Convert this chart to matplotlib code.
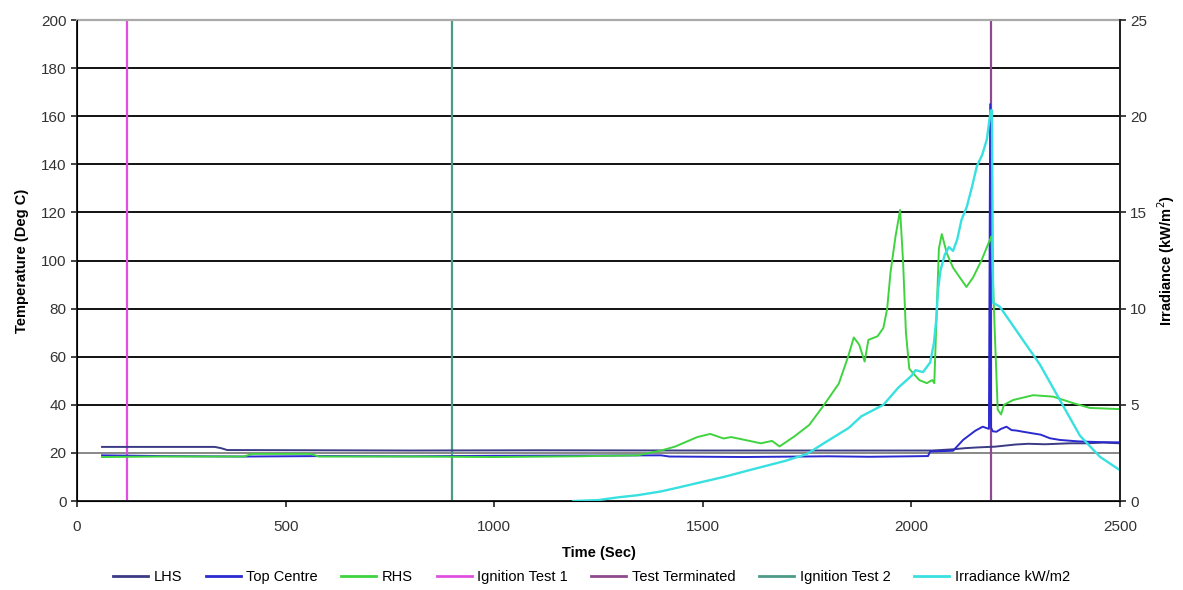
import matplotlib
matplotlib.use("Agg")
import matplotlib.pyplot as plt

plt.rcParams['font.family'] = ['Liberation Sans', 'DejaVu Sans']

# Thermocouple readings (time in s, temperature in deg C)
lhs_t = [60, 330, 345, 360, 800, 1100, 1500, 2050, 2100, 2130, 2160, 2200, 2250,
         2280, 2320, 2380, 2420, 2460, 2500]
lhs_temp = [22.5, 22.5, 22.0, 21.2, 21.0, 21.1, 21.0, 21.0, 21.5, 22.0, 22.3, 22.6,
            23.5, 23.8, 23.6, 24.0, 24.0, 24.3, 24.0]

top_t = [60, 200, 400, 600, 800, 1000, 1200, 1400, 1420, 1600, 1800, 1900, 2000,
         2040, 2045, 2100, 2124, 2153, 2171, 2186, 2189, 2191, 2195, 2204, 2215,
         2228, 2240, 2252, 2268, 2292, 2310, 2332, 2356, 2400, 2450, 2500]
top_temp = [19.0, 18.7, 18.5, 18.7, 18.6, 18.8, 18.9, 19.0, 18.5, 18.3, 18.6, 18.4,
            18.6, 18.7, 20.6, 20.9, 25.4, 29.2, 30.9, 30.0, 165.0, 30.5, 29.0, 28.8,
            30.0, 30.9, 29.5, 29.3, 28.8, 28.1, 27.6, 26.1, 25.4, 24.8, 24.5, 24.4]

rhs_t = [60, 200, 400, 420, 560, 580, 800, 1000, 1200, 1343, 1400, 1433, 1487, 1518,
         1550, 1568, 1612, 1639, 1666, 1684, 1719, 1755, 1790, 1826, 1848, 1862, 1875,
         1888, 1897, 1919, 1933, 1942, 1950, 1962, 1973, 1980, 1987, 1995, 2005, 2019,
         2037, 2050, 2055, 2060, 2066, 2073, 2085, 2100, 2116, 2132, 2148, 2168, 2188,
         2192, 2200, 2207, 2215, 2222, 2244, 2292, 2340, 2388, 2428, 2460, 2500]
rhs_temp = [18.3, 18.5, 18.5, 19.6, 19.6, 18.5, 18.5, 18.3, 18.6, 19.0, 21.0, 22.6,
            26.6, 27.9, 26.0, 26.6, 25.0, 24.0, 25.0, 22.7, 26.8, 31.6, 39.8, 48.8,
            59.8, 68.0, 65.0, 58.0, 67.0, 68.5, 72.0, 80.0, 95.0, 110.0, 121.0, 100.0,
            70.0, 55.0, 53.0, 50.3, 49.0, 50.3, 49.0, 75.0, 105.0, 111.0, 103.0, 97.0,
            93.0, 89.0, 93.0, 100.0, 108.5, 110.0, 70.0, 38.0, 36.0, 40.0, 42.0, 44.0,
            43.4, 40.7, 38.7, 38.5, 38.2]

# Radiometer (kW/m2)
irr_t = [1190, 1250, 1300, 1343, 1400, 1433, 1500, 1550, 1611, 1700, 1750, 1790,
         1850, 1880, 1933, 1969, 2000, 2010, 2028, 2045, 2054, 2060, 2064, 2070,
         2080, 2090, 2100, 2110, 2120, 2133, 2145, 2157, 2170, 2181, 2190, 2193,
         2196, 2212, 2260, 2308, 2356, 2404, 2452, 2500]
irradiance = [0.0, 0.05, 0.2, 0.3, 0.5, 0.66, 1.0, 1.25, 1.6, 2.1, 2.45, 3.0, 3.8,
              4.4, 5.0, 5.9, 6.5, 6.8, 6.7, 7.2, 8.2, 9.5, 11.0, 12.0, 12.8, 13.2,
              13.0, 13.6, 14.6, 15.3, 16.3, 17.4, 18.0, 18.8, 20.3, 20.3, 10.3, 10.1,
              8.6, 7.1, 5.25, 3.4, 2.3, 1.6]

# Event markers (s)
ignition_1 = 120
ignition_2 = 900
terminated = 2190

temp_ticks = list(range(0, 201, 20))
time_ticks = [0, 500, 1000, 1500, 2000, 2500]
irr_ticks = [0, 5, 10, 15, 20, 25]

fig = plt.figure(figsize=(11.83, 5.90), dpi=100)
ax = fig.add_axes([0.0651, 0.1508, 0.8816, 0.8153])

# Horizontal gridlines
for v in temp_ticks[1:-1]:
    ax.axhline(v, color='#888888' if v == 20 else '#111111', lw=1.4, zorder=1)

h_ig1 = ax.axvline(ignition_1, color='#e050e0', lw=1.6, zorder=2, label='Ignition Test 1')
h_term = ax.axvline(terminated, color='#8e4a8e', lw=1.6, zorder=2, label='Test Terminated')
h_ig2 = ax.axvline(ignition_2, color='#4d9a88', lw=1.6, zorder=2, label='Ignition Test 2')

h_lhs, = ax.plot(lhs_t, lhs_temp, color='#3a3a85', lw=1.4, zorder=3, label='LHS')
h_top, = ax.plot(top_t, top_temp, color='#2a2ad0', lw=1.4, zorder=3, label='Top Centre')
h_rhs, = ax.plot(rhs_t, rhs_temp, color='#3fd43f', lw=1.4, zorder=3, label='RHS')

ax.set_xlim(0, 2500)
ax.set_ylim(0, 200)
ax.set_xticks(time_ticks)
ax.set_yticks(temp_ticks)
ax.tick_params(axis='both', labelsize=11, direction='out', length=4, width=1.2,
               colors='#222222', labelcolor='#333333')
ax.tick_params(axis='x', pad=10)
ax.set_xlabel('Time (Sec)', fontsize=10.5, fontweight='bold', labelpad=8)
ax.set_ylabel('Temperature (Deg C)', fontsize=10.5, fontweight='bold', labelpad=9)

for side in ('left', 'bottom', 'right'):
    ax.spines[side].set_color('#222222')
    ax.spines[side].set_linewidth(1.4)
ax.spines['top'].set_color('#aaaaaa')
ax.spines['top'].set_linewidth(1.6)

ax2 = ax.twinx()
h_irr, = ax2.plot(irr_t, irradiance, color='#38e0e0', lw=1.7, label='Irradiance kW/m2')
ax2.set_ylim(0, 25)
ax2.set_yticks(irr_ticks)
ax2.tick_params(axis='y', labelsize=11, direction='out', length=4, width=1.2,
                colors='#222222', labelcolor='#333333')
ax2.set_ylabel('Irradiance (kW/m$^2$)', fontsize=10.5, fontweight='bold', labelpad=6)
ax2.spines['right'].set_color('#222222')
ax2.spines['right'].set_linewidth(1.4)
ax2.spines['top'].set_visible(False)

handles = [h_lhs, h_top, h_rhs, h_ig1, h_term, h_ig2, h_irr]
leg = fig.legend(handles=handles, labels=[h.get_label() for h in handles],
                 loc='center', bbox_to_anchor=(0.5, 0.022), ncol=7, frameon=False,
                 fontsize=10.5, handlelength=2.4, handletextpad=0.4, columnspacing=1.6)
for line in leg.get_lines():
    line.set_linewidth(2.0)

fig.savefig('out.png', dpi=100)
